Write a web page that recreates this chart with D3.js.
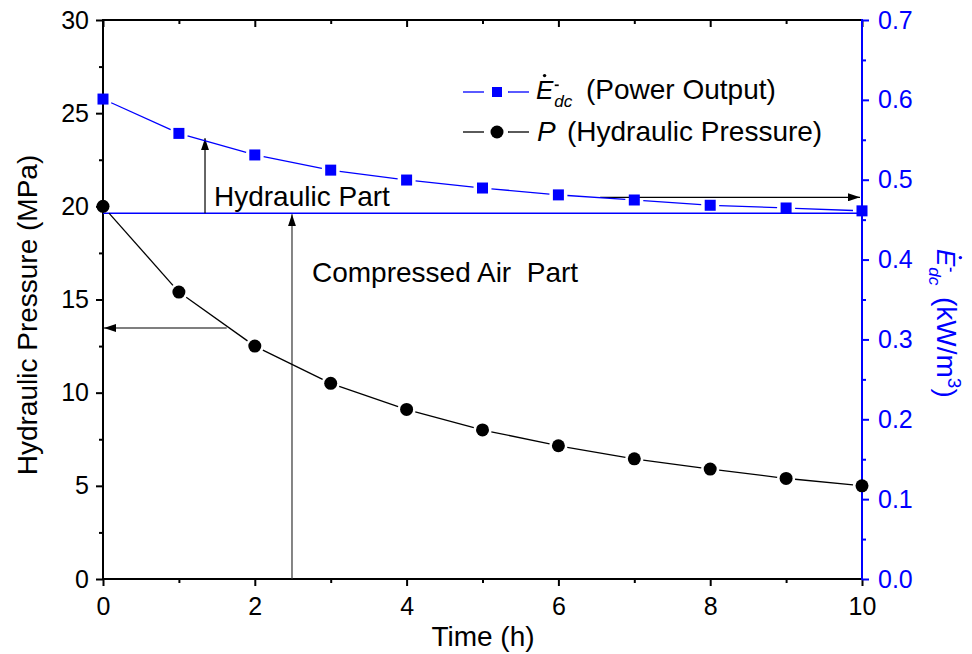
<!DOCTYPE html>
<html><head><meta charset="utf-8">
<script src="https://cdn.jsdelivr.net/npm/d3@7"></script>
<style>body{margin:0;background:#fff}svg{display:block}text{font-family:"Liberation Sans",Arial,sans-serif}</style>
</head><body>
<script>
const hours = [0,1,2,3,4,5,6,7,8,9,10];
const powerOutput = [0.601,0.558,0.531,0.512,0.4996,0.4896,0.481,0.4746,0.468,0.4646,0.461];
const pressure = [20.0,15.4,12.5,10.5,9.1,8.0,7.15,6.45,5.9,5.4,5.0];
const xTicks = [0,2,4,6,8,10];
const xMinor = [1,3,5,7,9];
const yLeftTicks = [0,5,10,15,20,25,30];
const yLeftMinor = [2.5,7.5,12.5,17.5,22.5,27.5];
const yRightTicks = [0,0.1,0.2,0.3,0.4,0.5,0.6,0.7];
const yRightMinor = [0.05,0.15,0.25,0.35,0.45,0.55,0.65];
const boundaryPower = 0.458;

const W=972,H=654;
const svg=d3.select("body").append("svg").attr("width",W).attr("height",H);
const x=d3.scaleLinear([0,10],[103,862]);
const yL=d3.scaleLinear([0,30],[579,20]);
const yR=d3.scaleLinear([0,0.7],[579,20]);
const BLUE="#0000ff";
const TF=25, LF=28;

svg.append("defs").append("marker").attr("id","ah").attr("viewBox","0 0 12 8").attr("refX",12).attr("refY",4)
 .attr("markerWidth",12).attr("markerHeight",8).attr("markerUnits","userSpaceOnUse").attr("orient","auto")
 .append("path").attr("d","M0,0L12,4L0,8Z").attr("fill","#000");

function styleAxis(g,color,fs){
  g.select(".domain").remove();
  g.selectAll("line").attr("stroke",color).attr("stroke-width",2);
  g.selectAll("text").attr("fill",color).style("font-size",fs+"px").style("font-family",'"Liberation Sans",Arial,sans-serif');
}
// bottom
let g=svg.append("g").attr("transform","translate(0,579)").call(d3.axisBottom(x).tickValues(xTicks).tickSize(7).tickPadding(11).tickFormat(d3.format("d")));
styleAxis(g,"#000",TF);
g=svg.append("g").attr("transform","translate(0,579)").call(d3.axisBottom(x).tickValues(xMinor).tickSize(4).tickFormat(""));
styleAxis(g,"#000",TF);
// top (inward)
g=svg.append("g").attr("transform","translate(0,20)").call(d3.axisBottom(x).tickValues(xTicks).tickSize(7).tickFormat(""));
styleAxis(g,"#000",TF);
g=svg.append("g").attr("transform","translate(0,20)").call(d3.axisBottom(x).tickValues(xMinor).tickSize(4).tickFormat(""));
styleAxis(g,"#000",TF);
// left
g=svg.append("g").attr("transform","translate(103,0)").call(d3.axisLeft(yL).tickValues(yLeftTicks).tickSize(7).tickPadding(7).tickFormat(d3.format("d")));
styleAxis(g,"#000",TF);
g=svg.append("g").attr("transform","translate(103,0)").call(d3.axisLeft(yL).tickValues(yLeftMinor).tickSize(4).tickFormat(""));
styleAxis(g,"#000",TF);
// right
g=svg.append("g").attr("transform","translate(862,0)").call(d3.axisRight(yR).tickValues(yRightTicks).tickSize(7).tickPadding(9).tickFormat(d3.format(".1f")));
styleAxis(g,BLUE,TF);
g=svg.append("g").attr("transform","translate(862,0)").call(d3.axisRight(yR).tickValues(yRightMinor).tickSize(4).tickFormat(""));
styleAxis(g,BLUE,TF);
// axis lines
svg.append("line").attr("x1",103).attr("x2",862).attr("y1",579).attr("y2",579).attr("stroke","#000").attr("stroke-width",2);
svg.append("line").attr("x1",103).attr("x2",862).attr("y1",20).attr("y2",20).attr("stroke","#000").attr("stroke-width",2);
svg.append("line").attr("x1",103).attr("x2",103).attr("y1",19).attr("y2",580).attr("stroke","#000").attr("stroke-width",2);
svg.append("line").attr("x1",862).attr("x2",862).attr("y1",19).attr("y2",580).attr("stroke",BLUE).attr("stroke-width",2);

// boundary line
svg.append("line").attr("x1",x(0)).attr("x2",x(10)).attr("y1",yR(boundaryPower)).attr("y2",yR(boundaryPower)).attr("stroke",BLUE).attr("stroke-width",1.6);

// arrows (data coords)
function arrow(x1,y1,x2,y2,col){
  svg.append("line").attr("x1",x1).attr("y1",y1).attr("x2",x2).attr("y2",y2).attr("stroke",col||"#000").attr("stroke-width",1.2).attr("marker-end","url(#ah)");
}
arrow(x(1.344),yR(boundaryPower),x(1.344),yR(0.552));
arrow(x(2.49),yL(0),x(2.49),yR(boundaryPower)+1,"#333");
arrow(x(1.63),yL(13.47),x(0)+1,yL(13.47));
arrow(x(6.55),yR(0.478),x(10)-2,yR(0.478));

// series lines with gaps
function gapLine(xs,ys,col,gap){
  for(let i=0;i<xs.length-1;i++){
    const x1=xs[i],y1=ys[i],x2=xs[i+1],y2=ys[i+1];
    const dx=x2-x1,dy=y2-y1,L=Math.hypot(dx,dy);
    if(L<2*gap) continue;
    const ux=dx/L,uy=dy/L;
    svg.append("line").attr("x1",x1+ux*gap).attr("y1",y1+uy*gap).attr("x2",x2-ux*gap).attr("y2",y2-uy*gap).attr("stroke",col).attr("stroke-width",1.3);
  }
}
gapLine(hours.map(x),pressure.map(yL),"#000",9);
gapLine(hours.map(x),powerOutput.map(yR),BLUE,9);
svg.selectAll("circle.p").data(hours).join("circle").attr("class","p").attr("cx",d=>x(d)).attr("cy",(d,i)=>yL(pressure[i])).attr("r",6.5).attr("fill","#000");
svg.selectAll("rect.e").data(hours).join("rect").attr("class","e").attr("x",d=>x(d)-5.5).attr("y",(d,i)=>yR(powerOutput[i])-5.5).attr("width",11).attr("height",11).attr("fill",BLUE);

// annotation texts
svg.append("text").attr("x",214).attr("y",206).style("font-size",LF+"px").text("Hydraulic Part");
svg.append("text").attr("x",312).attr("y",282).style("font-size",LF+"px").style("white-space","pre").text("Compressed Air  Part");

// E-dot symbol
function edc(gr,col,fs){
  gr.append("text").attr("x",0).attr("y",0).style("font-size",fs+"px").style("font-style","italic").attr("fill",col).text("E");
  gr.append("circle").attr("cx",0.33*fs).attr("cy",-0.9*fs).attr("r",1.7).attr("fill",col);
  gr.append("rect").attr("x",0.72*fs).attr("y",-0.56*fs).attr("width",4).attr("height",1.7).attr("fill",col);
  gr.append("text").attr("x",0.7*fs).attr("y",0.3*fs).style("font-size",(0.66*fs)+"px").style("font-style","italic").attr("fill",col).text("dc");
}
// legend
svg.append("line").attr("x1",463).attr("x2",484).attr("y1",92).attr("y2",92).attr("stroke",BLUE).attr("stroke-width",1.3);
svg.append("line").attr("x1",508).attr("x2",529).attr("y1",92).attr("y2",92).attr("stroke",BLUE).attr("stroke-width",1.3);
svg.append("rect").attr("x",492).attr("y",87).attr("width",10).attr("height",10).attr("fill",BLUE);
edc(svg.append("g").attr("transform","translate(536,99)"),"#000",26);
svg.append("text").attr("x",586).attr("y",99).style("font-size",LF+"px").text("(Power Output)");
svg.append("line").attr("x1",463).attr("x2",484).attr("y1",132).attr("y2",132).attr("stroke","#000").attr("stroke-width",1.3);
svg.append("line").attr("x1",508).attr("x2",529).attr("y1",132).attr("y2",132).attr("stroke","#000").attr("stroke-width",1.3);
svg.append("circle").attr("cx",497).attr("cy",132).attr("r",6.5).attr("fill","#000");
svg.append("text").attr("x",537).attr("y",141).style("font-size",LF+"px").style("font-style","italic").text("P");
svg.append("text").attr("x",567).attr("y",141).style("font-size",LF+"px").text("(Hydraulic Pressure)");

// axis titles
svg.append("text").attr("x",483).attr("y",646).attr("text-anchor","middle").style("font-size",LF+"px").text("Time (h)");
svg.append("text").attr("transform","translate(37,315) rotate(-90)").attr("text-anchor","middle").style("font-size",LF+"px").text("Hydraulic Pressure (MPa)");
const rg=svg.append("g").attr("transform","translate(937,249) rotate(90)");
edc(rg,BLUE,26);
const rt=rg.append("text").attr("x",48).attr("y",0).style("font-size",LF+"px").attr("fill",BLUE);
rt.append("tspan").text("(kW/m");
rt.append("tspan").attr("dy",-11).style("font-size","19px").text("3");
rt.append("tspan").attr("dy",11).text(")");
</script>
</body></html>
